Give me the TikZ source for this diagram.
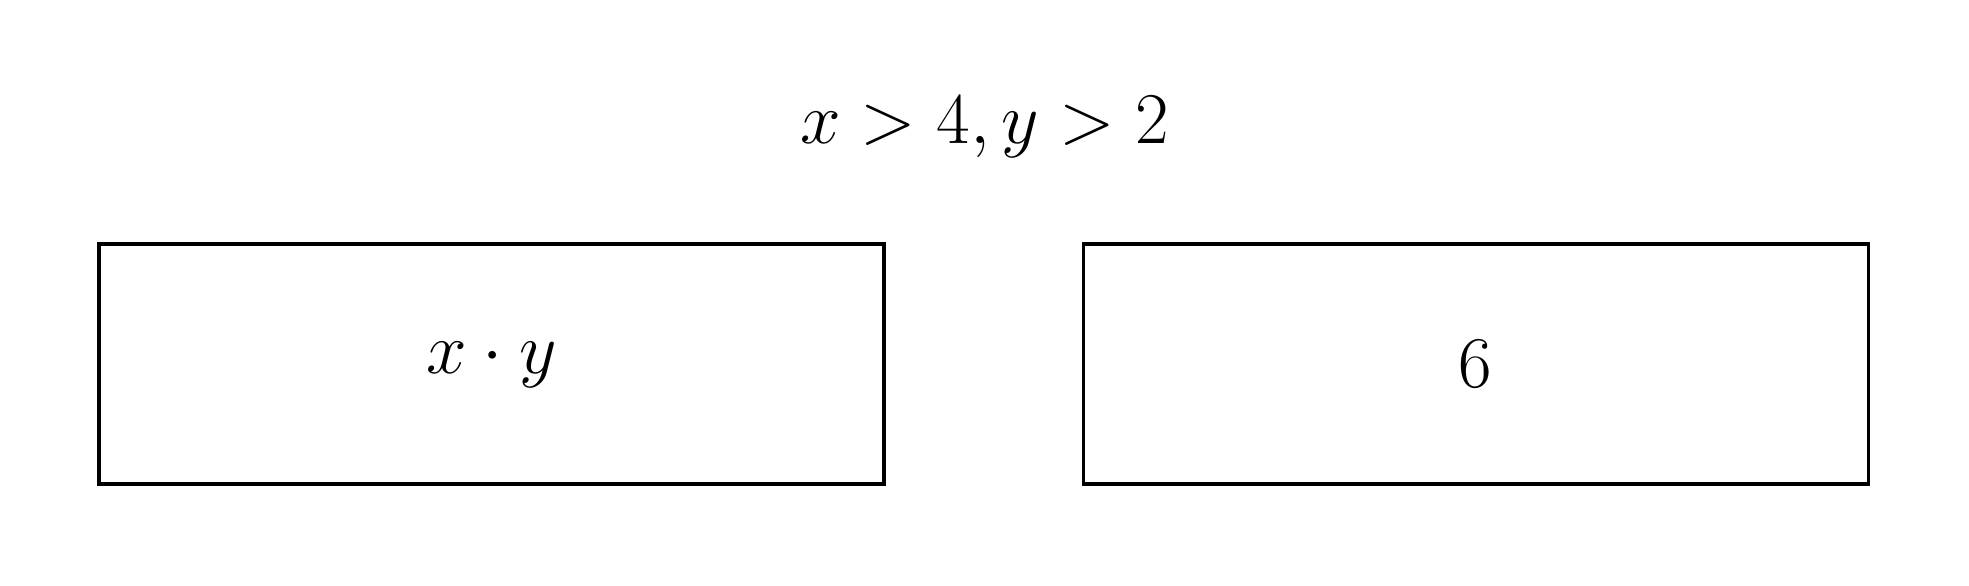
\documentclass[tikz,border=0pt]{standalone}
\usetikzlibrary{positioning}

\begin{document}
\begin{tikzpicture}[line width=0.9pt,
	valbox/.style={draw, minimum width=7.85cm, minimum height=2.4cm, font=\fontsize{19.8}{24}\selectfont}]
\useasboundingbox (0,0) rectangle (19.69,5.85);

%boxes
\node[valbox] (lhs) at (4.915,2.21) {$x \cdot y$};
\node[valbox, right=1.96cm of lhs] (rhs) {$6$};

%condition
\node[anchor=base, font=\fontsize{19.5}{24}\selectfont] (cond) at (9.845,4.42) {$x > 4, y > 2$};

\end{tikzpicture}
\end{document}
